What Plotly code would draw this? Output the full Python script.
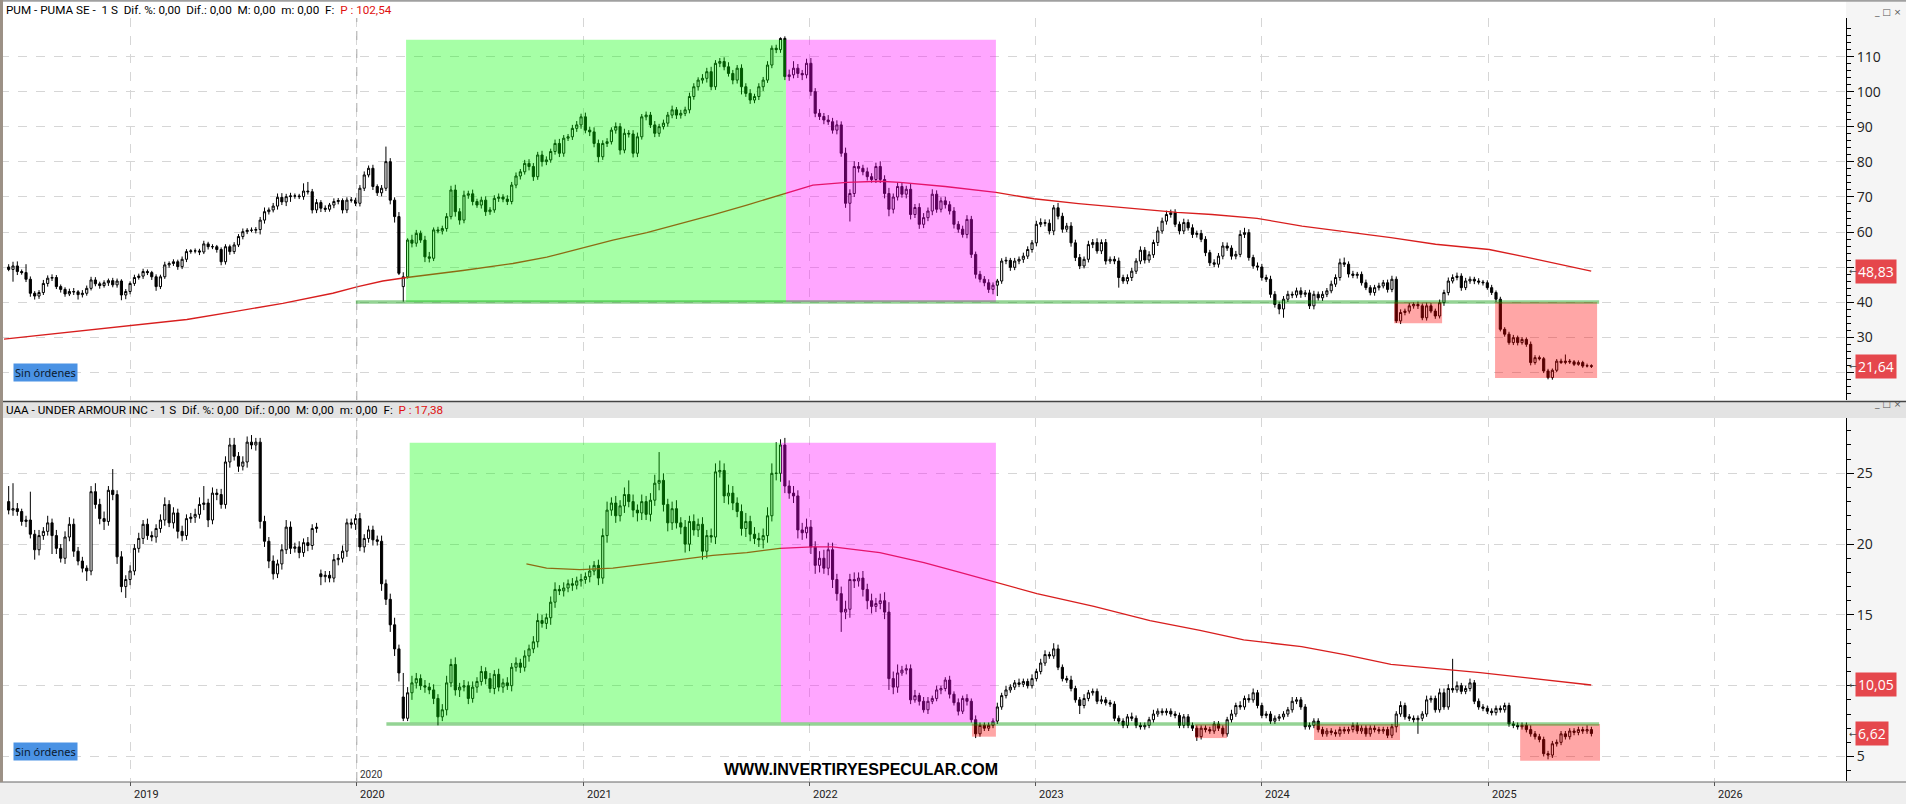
import pandas as pd
import plotly.graph_objects as go

# ===================== DATA =====================
START = "2018-06-18"          # first weekly candle (Monday)

# ---- PUMA SE weekly closes ----
pum_close_a = [49.3,50.3,48.7,48.4,46.5,42.5,41.7,42.7,45.3,46.8,
 47.0,44.4,43.6,42.3,43.0,42.9,42.1,42.5,43.9,46.3,
 45.2,44.7,45.5,46.1,44.9,46.0,42.0,43.0,45.3,47.0,
 47.4,48.7,48.4,47.2,44.4,47.2,50.6,51.0,51.5,50.1,
 52.2,54.4,54.6,54.6,54.3,56.6,55.8,55.8,55.0,51.5,
 55.8,54.4,56.3,58.7,60.1,60.5,60.5,60.7,63.4,65.8,
 66.3,67.4,69.9,68.6,70.1,70.3,70.3,70.1,71.7,71.5,
 66.3,68.4,66.8,66.5,67.7,68.7,69.0,66.3,69.1,69.1,
 68.2,72.5,76.3,78.2,73.0,71.2,72.5,80.1,69.1,64.4,
 48.2]
pum_close_b = [47.2,57.7,56.8,59.6,57.7,52.9,52.5,60.6,60.3,61.0,
 64.4,72.0,65.8,63.4,70.5,70.9,68.7,67.7,69.1,65.8,
 66.3,69.6,70.0,69.4,68.7,73.4,76.0,77.2,79.6,78.7,
 75.8,82.0,80.1,80.6,83.0,85.3,82.5,86.8,87.2,89.6,
 90.6,92.9,89.1,88.6,85.3,81.5,85.3,85.8,89.1,90.1,
 83.4,88.2,88.0,82.5,87.2,92.9,93.4,90.6,88.2,90.1,
 91.1,93.4,94.9,93.4,93.9,94.9,98.7,101.5,103.4,103.9,
 105.8,101.5,108.2,108.7,107.2,105.3,103.4,106.8,101.5,99.6,
 97.7,98.7,101.5,103.4,107.7,112.5,112.1,115.3,104.4,104.9,
 106.8,105.3,104.9,108.2,100.1,93.9,93.0,92.0,91.5,89.1,
 90.6,82.5,68.2,71.0,78.7,78.2,77.2,75.8,75.0,78.7]
pum_close_c = [75.0,71.0,66.5,70.0,73.0]
pum_close_d = [70.8,72.2,65.0,67.0,62.2,64.1,66.0,70.8,66.5,68.9,
 67.8,66.0,62.2,60.8,59.3,63.6,53.6,47.9,46.5,45.5,
 43.6,44.8,46.0,51.7,51.9,49.9,51.7,52.2,53.1,55.0,
 56.9,62.2,62.7,62.5,60.3,66.9,64.5,60.8,61.7,56.9,
 52.7,50.3,52.2,56.4,57.0,54.6,57.0,51.7,52.2,51.7,
 47.0,46.0,47.0,48.8,51.7,54.8,52.0,53.5,57.0,60.3,
 63.1,65.0,65.5,62.2,60.3,62.7,61.2,59.3,59.6,57.9,
 54.1,51.2,50.8,53.1,56.0,55.4,53.1,53.6,59.3,59.8,
 52.7,50.3,50.0,47.0,46.5,42.2,39.3,38.0,40.8,42.2,
 42.0,43.2,42.2,42.6,38.9,42.2,41.2,42.2,43.2,45.1,
 47.0,51.2,50.8,48.0,47.6,47.9,45.5,44.1,42.7,44.1,
 44.6,45.5,43.6,46.5,34.6,37.0,37.4,38.9,39.3,38.9,
 35.5,38.9,37.4,36.0,39.8,42.7,46.0,47.0,47.4,44.1,
 46.0,46.5,46.0,45.7,45.5,44.1,42.7,40.8,32.2,30.8,
 28.4,29.8,28.4,29.3,27.9,22.7,24.1,23.8,20.3,18.4,
 20.5,23.1,22.7,23.1,22.9,22.2,22.7,21.7,21.8,21.64]
# upper / lower wick lengths (price units)
pum_uw_a = [0.8,1.2,1.3,0.6,2.4,0.8,0.6,0.7,1.0,0.8, 0.9,0.7,0.6,0.6,0.8,1.0,0.5,0.9,0.8,0.9,
 0.8,0.6,0.7,0.6,0.8,0.7,0.5,0.7,0.6,0.8, 0.7,0.8,0.6,0.5,0.7,0.6,0.9,0.6,0.7,0.6,
 0.8,0.7,0.5,0.7,0.6,0.9,0.6,0.7,0.5,0.6, 0.7,0.6,0.8,0.7,0.9,0.6,0.8,0.7,0.9,1.2,
 0.7,0.9,1.1,1.2,0.8,0.9,0.7,0.6,2.2,2.6, 0.8,1.0,0.7,0.8,0.6,0.9,0.7,0.6,0.8,0.9,
 0.7,0.9,1.0,0.8,1.0,0.6,0.9,4.3,1.0,0.8, 1.3]
pum_lw_a = [0.5,3.5,1.0,0.6,0.8,1.0,1.0,0.8,0.7,0.9, 0.8,0.7,0.9,0.8,0.6,0.9,1.4,0.8,0.7,0.6,
 0.7,0.9,0.6,0.9,0.7,0.8,1.5,1.2,0.8,0.7, 0.6,0.8,0.7,0.9,1.2,0.7,0.6,0.8,0.7,0.9,
 0.7,0.8,0.6,0.7,0.9,0.6,0.8,0.7,0.9,1.0, 0.8,0.9,0.7,0.6,0.8,0.7,0.6,0.9,1.4,1.0,
 0.8,0.7,1.0,0.9,1.2,1.5,0.8,0.7,0.9,0.8, 1.0,0.9,1.1,0.8,0.7,0.9,0.8,1.0,0.9,0.7,
 0.8,0.9,0.8,0.7,1.0,0.9,1.0,0.8,1.2,1.7, 0.5]
pum_uw_b = [1.3,0.5,1.5,1.0,0.8,1.2,1.4,0.7,0.9,0.8, 1.0,1.2,1.5,1.0,1.3,0.9,1.2,0.8,1.0,1.1,
 0.8,0.9,1.0,0.8,1.1,0.9,1.0,0.8,1.0,1.2, 1.0,0.9,1.2,1.0,0.8,1.1,1.3,0.9,0.8,1.0,
 1.1,0.9,1.2,1.0,1.3,1.1,0.9,1.0,0.8,1.2, 1.0,1.3,0.9,1.1,1.2,0.8,1.0,0.9,1.1,0.8,
 1.0,0.9,1.2,0.8,1.0,0.9,1.1,1.0,0.8,1.2, 1.1,1.4,0.9,1.0,1.2,1.3,1.0,0.9,1.1,1.0,
 1.2,0.8,1.0,0.9,1.1,0.8,1.0,0.3,0.6,1.5, 2.0,1.2,1.0,1.3,1.5,1.0,1.2,1.0,1.4,1.1,
 1.3,1.0,1.6,1.2,1.5,1.3,1.0,1.2,1.0,1.1]
pum_lw_b = [4.3,0.5,1.2,1.0,0.8,1.5,1.2,0.8,0.7,1.0, 0.9,0.8,1.4,1.3,0.9,1.0,1.1,0.8,1.0,1.2,
 0.9,0.8,1.0,0.9,1.0,0.8,0.9,1.0,0.8,1.1, 1.2,0.9,1.4,1.0,0.8,0.9,1.1,1.0,0.8,0.9,
 1.0,1.1,0.9,1.2,1.1,1.6,0.9,1.0,0.8,1.0, 1.3,0.9,1.0,1.2,1.1,0.8,1.0,0.9,1.1,1.0,
 0.8,1.0,0.9,1.1,1.0,0.8,1.0,0.9,1.1,1.0, 1.2,1.0,0.9,1.1,1.0,0.9,1.2,1.0,2.2,1.0,
 1.1,0.9,1.0,1.2,0.8,0.9,1.0,0.9,1.0,1.2, 1.0,1.3,1.5,1.0,1.2,1.1,1.0,1.2,0.9,1.0,
 1.2,1.0,1.3,5.2,1.0,1.2,1.0,1.1,0.9,1.0]
pum_uw_c = [1.5,1.2,1.6,1.0,1.2]
pum_lw_c = [1.0,1.4,2.0,1.2,1.0]
pum_uw_d = [1.2,1.0,1.5,1.0,1.2,1.3,1.0,1.4,1.1,1.0, 1.2,1.0,1.1,0.9,1.0,1.2,1.0,0.8,1.0,0.9,
 1.0,0.8,0.6,0.8,1.0,0.7,0.9,0.8,1.0,0.9, 0.8,1.0,1.2,0.9,1.1,0.8,1.4,1.0,0.9,1.1,
 0.9,1.0,0.8,1.1,1.0,1.2,0.9,1.0,0.8,0.9, 1.0,0.8,0.9,1.0,0.8,1.1,0.9,1.0,0.8,1.2,
 1.0,1.1,0.9,1.0,0.8,1.1,0.9,1.0,0.8,1.0, 0.9,0.8,1.0,0.9,1.1,1.0,0.8,1.0,1.2,1.4,
 1.0,0.8,1.0,0.9,0.8,1.0,0.9,0.8,0.9,1.0, 0.8,0.9,1.0,0.8,0.9,1.0,0.8,0.9,0.8,1.0,
 0.9,1.2,1.5,0.8,0.9,0.7,0.8,0.9,0.7,0.8, 0.9,0.8,0.9,1.0,0.8,0.9,0.7,0.8,0.6,0.8,
 0.7,0.9,0.8,0.7,0.9,0.8,1.0,0.9,1.0,0.8, 0.9,0.8,0.7,0.8,0.6,0.7,0.8,0.6,0.7,0.6,
 0.7,0.8,0.6,0.7,0.6,0.8,0.7,0.6,0.5,0.6, 0.5,0.6,0.7,1.9,0.6,0.5,0.6,0.5,0.6,0.4]
pum_lw_d = [1.0,1.2,1.4,1.0,1.3,1.1,1.0,1.2,1.0,0.9, 1.1,1.0,1.2,1.0,0.9,1.1,1.0,1.2,0.9,1.0,
 1.0,1.4,3.1,0.8,0.9,1.0,0.8,0.9,1.0,0.8, 0.9,1.0,0.8,0.9,1.0,1.2,0.9,1.0,0.8,1.1,
 1.0,0.9,0.7,0.9,1.0,0.8,0.9,1.0,0.8,0.9, 2.9,0.8,0.9,1.0,0.8,0.9,1.0,0.8,0.9,1.0,
 0.8,1.0,0.9,0.8,1.0,0.9,0.8,1.0,0.9,0.8, 1.0,0.9,0.8,1.0,0.9,0.8,1.0,0.9,0.8,1.0,
 0.9,0.8,1.0,0.9,0.8,1.0,0.9,1.5,2.5,0.8, 0.9,0.8,1.0,0.8,0.9,1.0,0.8,0.9,0.8,0.7,
 0.8,0.9,0.8,1.0,0.8,0.9,0.8,0.7,0.8,0.9, 0.8,0.7,0.9,0.8,0.6,0.9,0.8,0.7,0.8,0.9,
 0.7,0.8,0.6,0.8,0.7,0.9,0.8,0.7,0.8,0.9, 0.7,0.8,0.9,0.7,0.8,0.6,0.7,0.8,0.6,0.7,
 0.6,0.7,0.8,0.6,0.7,0.8,0.6,0.5,0.6,0.5, 0.6,0.5,0.4,0.5,0.6,0.5,0.4,0.5,0.4,0.5]
pum_first_open = 50.0
pum_gap_open = {"2020-03-16": 44.4}

# ---- UNDER ARMOUR weekly closes ----
uaa_close_a = [22.4,22.5,22.3,21.6,21.7,20.7,19.6,20.6,20.9,21.5,
 20.6,19.7,19.0,20.5,21.4,19.5,18.8,18.3,18.1,23.7,
 22.8,21.8,21.6,23.8,23.5,19.1,17.0,17.5,18.1,19.7,
 20.4,21.4,20.6,20.5,21.1,21.7,22.8,21.5,22.2,20.9,
 20.6,21.8,21.9,22.1,22.8,22.9,21.7,23.6,23.5,22.8,
 25.8,27.0,26.2,25.5,25.8,27.2,27.0,27.2,21.6,20.2,
 18.8,17.9,18.6,19.6,21.2,19.7,19.8,19.4,20.1,19.9,
 21.1,21.2,17.7,17.8,17.6,18.9,19.0,19.5,21.5,21.4,
 21.8,19.8,20.4,21.0,20.3,20.2,17.2,16.1,14.3,12.6,
 10.9]
uaa_close_b = [7.7,9.5,10.2,10.5,10.0,9.9,9.7,9.1,7.8,8.3,
 10.2,11.5,9.7,9.9,10.0,9.1,9.9,10.3,11.0,10.5,
 9.8,10.8,9.9,10.2,10.0,11.3,11.6,11.3,12.1,12.6,
 13.1,14.6,14.4,14.8,15.9,16.8,16.7,16.9,17.2,17.1,
 17.4,17.5,17.7,18.1,18.5,17.6,20.6,22.4,22.9,22.0,
 22.7,23.5,23.0,22.4,22.2,23.0,22.1,23.1,24.3,24.5,
 22.8,21.5,22.5,21.5,21.2,20.0,21.6,21.0,21.4,19.5,
 20.6,20.5,25.1,25.2,23.4,23.6,22.9,22.3,21.1,21.6,
 20.7,20.4,20.3,20.6,22.0,25.0,25.0,27.0,24.1,23.6,
 23.4,21.0,20.8,21.2,19.8,18.5,19.0,18.3,19.6,17.5,
 16.5,15.2,15.4,17.5,17.4,17.6,16.8,16.0,15.6,15.8]
uaa_close_c = [16.0,15.2,10.5,9.9,10.9]
uaa_close_d = [11.1,11.2,9.0,9.3,8.9,8.3,8.9,9.1,9.7,9.8,
 10.4,9.4,8.8,8.2,9.1,8.9,7.6,6.6,7.2,7.0,
 7.2,7.5,8.5,9.3,9.7,9.9,10.2,10.1,10.3,10.0,
 10.5,11.0,11.6,12.2,12.1,12.6,11.3,10.5,10.4,9.8,
 9.0,8.6,9.1,9.5,9.6,8.9,9.0,8.8,8.7,7.7,
 7.5,7.2,7.8,7.7,7.2,7.1,7.2,7.6,8.0,8.2,
 8.1,8.2,8.0,7.9,7.2,7.8,7.2,7.0,6.4,7.0,
 6.9,6.8,7.3,7.0,6.6,7.6,8.0,8.6,8.5,9.1,
 9.0,9.5,8.6,7.9,8.0,7.5,7.7,7.8,8.0,8.3,
 8.9,9.0,8.5,7.1,7.2,7.5,6.9,6.6,6.8,6.7,
 6.6,6.9,6.8,6.9,7.2,6.8,7.0,6.6,7.0,6.9,
 6.8,6.9,6.5,7.1,8.0,8.6,7.8,7.7,7.6,7.7,
 8.0,9.0,9.1,8.3,9.5,8.5,9.8,9.7,10.0,9.6,
 9.8,10.2,8.9,8.5,8.4,8.2,8.1,8.4,8.3,8.6,
 7.3,7.2,7.1,7.2,6.9,6.6,6.4,6.2,5.2,5.1,
 5.9,6.0,6.6,6.4,6.8,6.7,6.9,6.8,6.9,6.62]
uaa_uw_a = [1.1,1.8,0.4,0.2,0.3,2.0,0.3,0.4,0.3,0.5, 0.3,0.4,0.3,0.4,0.5,0.4,0.3,0.3,0.2,0.4,
 0.6,0.4,0.5,0.3,1.5,0.3,0.4,0.3,0.4,0.3, 0.4,0.3,0.4,0.3,0.3,0.4,0.5,0.3,0.4,0.3,
 0.4,0.3,0.3,0.4,0.5,1.2,0.3,0.4,0.3,0.4, 0.4,0.5,0.5,0.3,0.4,0.4,0.5,0.3,0.3,0.4,
 0.3,0.4,0.3,0.4,0.5,0.4,0.3,0.4,0.3,0.4, 0.3,0.3,0.3,0.3,0.3,0.4,0.3,0.4,0.3,0.3,
 0.3,0.4,0.3,0.3,0.3,0.3,0.4,0.3,0.4,0.5, 0.3]
uaa_lw_a = [0.3,0.4,0.3,0.3,0.4,0.3,0.7,0.4,0.3,0.3, 1.3,0.4,0.3,0.4,0.3,0.4,0.3,0.3,0.7,0.3,
 0.3,0.4,0.6,0.3,0.4,0.5,0.4,0.8,0.4,0.3, 0.3,0.4,0.3,0.3,0.4,0.3,0.4,0.3,0.4,0.5,
 0.4,0.3,0.3,0.4,0.3,0.4,0.5,0.3,0.4,0.3, 0.3,0.4,0.3,0.4,0.3,0.4,0.3,0.4,0.5,0.4,
 0.5,0.4,0.3,0.4,0.3,0.4,0.3,0.4,0.3,0.4, 0.3,0.3,0.6,0.4,0.3,0.3,0.4,0.3,0.4,0.3,
 0.4,0.3,0.4,0.3,0.4,0.3,0.5,0.4,0.5,0.5, 0.6]
uaa_uw_b = [1.7,0.4,0.5,0.4,0.3,0.4,0.3,0.4,0.3,0.4, 0.5,0.4,0.5,0.3,0.4,0.3,0.4,0.3,0.4,0.3,
 0.4,0.3,0.4,0.3,0.4,0.3,0.4,0.3,0.4,0.3, 0.4,0.5,0.4,0.3,0.4,0.5,0.3,0.4,0.3,0.4,
 0.3,0.4,0.3,0.4,0.3,0.4,0.5,0.6,0.4,0.5, 0.4,0.5,1.0,0.5,0.4,0.5,0.4,0.5,0.6,2.0,
 0.5,0.4,0.5,0.6,0.4,0.5,0.4,0.5,0.4,0.5, 0.4,0.5,0.6,0.7,0.5,0.6,0.5,0.4,0.5,0.6,
 0.4,0.5,0.4,0.5,0.6,0.7,2.2,0.4,0.5,0.4, 0.5,0.4,0.5,0.6,0.5,0.4,0.5,0.6,0.5,0.5,
 0.4,0.5,0.6,0.4,0.5,0.4,0.5,0.4,0.5,0.4]
uaa_lw_b = [0.2,0.2,0.5,0.4,0.3,0.4,0.3,0.4,0.6,0.3, 0.4,0.3,0.4,0.5,0.3,0.4,0.3,0.4,0.3,0.4,
 0.3,0.4,0.3,0.4,0.3,0.4,0.3,0.4,0.3,0.4, 0.3,0.4,0.3,0.4,0.5,0.4,0.3,0.4,0.3,0.4,
 0.3,0.4,0.3,0.4,0.3,0.5,0.4,0.5,0.4,0.5, 0.4,0.5,0.4,0.5,0.6,0.5,0.4,0.5,0.4,0.5,
 0.5,0.6,0.5,0.4,0.5,0.6,0.5,0.4,0.5,0.6, 0.5,0.4,0.5,0.4,0.5,0.6,0.5,0.4,0.5,0.6,
 0.5,0.4,0.5,0.6,0.5,0.4,0.5,0.6,0.5,0.4, 0.5,0.6,0.5,0.4,0.5,0.6,0.5,0.4,0.5,0.6,
 0.5,1.4,0.5,0.6,0.5,0.4,0.5,0.6,0.5,0.4]
uaa_uw_c = [0.5,0.6,0.7,0.5,0.6]
uaa_lw_c = [0.4,0.5,0.8,0.5,0.4]
uaa_uw_d = [0.3,0.3,0.3,0.4,0.2,0.3,0.3,0.2,0.3,0.2, 0.2,0.3,0.2,0.3,0.2,0.3,0.2,0.3,0.2,0.2,
 0.2,0.2,0.3,0.2,0.3,0.2,0.2,0.3,0.2,0.2, 0.3,0.2,0.3,0.3,0.2,0.4,0.3,0.2,0.2,0.3,
 0.2,0.2,0.3,0.2,0.2,0.2,0.3,0.2,0.2,0.2, 0.2,0.2,0.2,0.3,0.2,0.2,0.2,0.2,0.3,0.2,
 0.2,0.2,0.2,0.2,0.2,0.2,0.2,0.2,0.2,0.2, 0.2,0.2,0.2,0.2,0.2,0.2,0.3,0.2,0.3,0.2,
 0.3,0.3,0.2,0.2,0.2,0.2,0.2,0.2,0.2,0.2, 0.3,0.2,0.2,0.2,0.2,0.2,0.2,0.2,0.2,0.2,
 0.2,0.2,0.2,0.2,0.2,0.2,0.2,0.2,0.2,0.2, 0.2,0.2,0.2,0.2,0.2,0.3,0.2,0.2,0.2,0.2,
 0.2,0.3,0.2,0.2,0.3,0.3,0.3,2.1,0.3,0.2, 0.2,0.3,0.2,0.2,0.2,0.2,0.2,0.2,0.2,0.2,
 0.2,0.2,0.2,0.2,0.2,0.3,0.2,0.2,0.2,0.2, 0.2,0.2,0.2,0.2,0.2,0.2,0.2,0.2,0.3,0.2]
uaa_lw_d = [0.2,0.3,0.3,0.2,0.3,0.2,0.3,0.2,0.2,0.3, 0.2,0.3,0.2,0.3,0.2,0.3,0.2,0.3,0.2,0.2,
 0.2,0.2,0.2,0.2,0.2,0.2,0.2,0.2,0.2,0.2, 0.2,0.2,0.2,0.2,0.2,0.2,0.2,0.2,0.2,0.2,
 0.2,0.6,0.2,0.2,0.2,0.2,0.2,0.2,0.2,0.2, 0.2,0.2,0.2,0.2,0.2,0.2,0.2,0.2,0.2,0.2,
 0.2,0.2,0.2,0.2,0.2,0.2,0.2,0.2,0.3,0.2, 0.2,0.2,0.2,0.2,0.2,0.2,0.2,0.2,0.2,0.2,
 0.2,0.2,0.2,0.2,0.2,0.2,0.2,0.2,0.2,0.2, 0.2,0.2,0.2,0.2,0.2,0.2,0.2,0.2,0.2,0.2,
 0.2,0.2,0.2,0.2,0.2,0.2,0.2,0.2,0.2,0.2, 0.2,0.2,0.2,0.2,0.4,0.2,0.2,0.2,0.2,1.0,
 0.2,0.2,0.2,0.2,0.2,0.2,0.2,0.2,0.2,0.2, 0.2,0.2,0.2,0.2,0.2,0.2,0.2,0.2,0.2,0.2,
 0.2,0.2,0.2,0.2,0.2,0.2,0.2,0.2,0.2,0.3, 0.2,0.2,0.2,0.2,0.2,0.2,0.2,0.2,0.2,0.2]
uaa_first_open = 23.0
uaa_gap_open = {"2019-11-04": 17.9, "2020-03-16": 9.2}

# ---- long moving averages (decimal year, value) ----
pum_ma_year = [2018.44,2019.0,2019.248,2019.451,2019.672,2019.893,2020.004,2020.114,2020.22,
 2020.468,2020.689,2020.839,2020.985,2021.131,2021.281,2021.427,2021.573,2021.723,2021.896,
 2022.015,2022.165,2022.311,2022.40,2022.60,2022.824,2022.992,2023.189,2023.386,2023.624,
 2023.779,2023.978,2024.177,2024.371,2024.570,2024.767,2025.004,2025.163,2025.318,2025.455]
pum_ma_val = [29.4,33.2,35.0,37.2,39.6,42.5,44.4,46.0,47.0,49.0,51.0,52.8,55.3,57.7,59.8,62.3,
 64.9,67.7,71.2,73.4,74.2,74.5,74.2,73.0,71.3,69.5,68.1,66.9,65.6,65.0,63.9,61.7,60.1,58.4,
 56.5,55.0,52.9,50.8,48.83]
uaa_ma_year = [2020.749,2020.838,2020.985,2021.131,2021.281,2021.427,2021.573,2021.723,2021.869,
 2022.015,2022.103,2022.311,2022.506,2022.665,2022.824,2023.005,2023.257,2023.505,2023.726,
 2023.919,2024.175,2024.371,2024.570,2024.844,2024.964,2025.163,2025.455]
uaa_ma_val = [18.6,18.3,18.2,18.3,18.6,18.9,19.2,19.4,19.7,19.8,19.8,19.4,18.7,18.0,17.3,16.5,
 15.6,14.6,13.9,13.23,12.76,12.17,11.5,11.1,10.92,10.57,10.05]

# ---- marked zones: (start year, end year, low, high, kind) ----
pum_zones = [(2020.217, 2021.896, 40.0, 114.9, "up"),
             (2021.896, 2022.824, 40.0, 114.9, "down"),
             (2024.584, 2024.796, 33.9, 40.0, "weak"),
             (2025.030, 2025.481, 18.3, 40.0, "weak")]
pum_support = (2019.995, 2025.49, 40.0)
uaa_zones = [(2020.233, 2021.874, 7.4, 27.15, "up"),
             (2021.874, 2022.824, 7.4, 27.15, "down"),
             (2022.718, 2022.824, 6.4, 7.3, "weak"),
             (2023.704, 2023.845, 6.3, 7.3, "weak"),
             (2024.230, 2024.610, 6.17, 7.3, "weak"),
             (2025.141, 2025.494, 4.7, 7.3, "weak")]
uaa_support = (2020.13, 2025.49, 7.3)

pum_last_labels = [48.83, 21.64]
uaa_last_labels = [10.05, 6.62]
year_labels = [2019, 2020, 2021, 2022, 2023, 2024, 2025, 2026]
pum_ticks = [20, 30, 40, 50, 60, 70, 80, 90, 100, 110]
pum_hidden_ticks = [20, 50]      # covered by the last-value labels
uaa_ticks = [5, 10, 15, 20, 25]
uaa_hidden_ticks = [10]

# ===================== BUILD =====================
pum_close = pum_close_a + pum_close_b + pum_close_c + pum_close_d
pum_uw = pum_uw_a + pum_uw_b + pum_uw_c + pum_uw_d
pum_lw = pum_lw_a + pum_lw_b + pum_lw_c + pum_lw_d
uaa_close = uaa_close_a + uaa_close_b + uaa_close_c + uaa_close_d
uaa_uw = uaa_uw_a + uaa_uw_b + uaa_uw_c + uaa_uw_d
uaa_lw = uaa_lw_a + uaa_lw_b + uaa_lw_c + uaa_lw_d

dates = pd.date_range(START, periods=len(pum_close), freq="7D")
dkeys = [d.strftime("%Y-%m-%d") for d in dates]


def ohlc(closes, first_open, gaps, uw, lw):
    n = len(closes)
    uw = (uw + [0.3] * n)[:n]
    lw = (lw + [0.3] * n)[:n]
    opens = [first_open] + closes[:-1]
    for k, v in gaps.items():
        if k in dkeys:
            opens[dkeys.index(k)] = v
    highs = [max(o, c) + u for o, c, u in zip(opens, closes, uw)]
    lows = [min(o, c) - l for o, c, l in zip(opens, closes, lw)]
    return opens, highs, lows


def ydate(y):
    return (pd.Timestamp("2019-01-01") + pd.Timedelta(days=(y - 2019) * 365.25)).strftime("%Y-%m-%d %H:%M")


po, ph, pl = ohlc(pum_close, pum_first_open, pum_gap_open, pum_uw, pum_lw)
uo, uh, ul = ohlc(uaa_close, uaa_first_open, uaa_gap_open, uaa_uw, uaa_lw)

# ---- pixel layout helpers (plot area: x 0..1846, y 18..781) ----
W, H = 1906, 804
PL, PR, PT, PB = 0, 1846, 18, 781


def px(x):
    return (x - PL) / (PR - PL)


def py(y):
    return (PB - y) / (PB - PT)


TOP_DOM = [py(400), 1.0]
BOT_DOM = [0.0, py(418)]

ZONE_COL = {"up": "rgba(0,255,0,0.35)", "down": "rgba(255,0,255,0.35)", "weak": "rgba(255,0,0,0.35)"}
CANDLE = dict(increasing=dict(line=dict(color="black", width=1), fillcolor="white"),
              decreasing=dict(line=dict(color="black", width=1), fillcolor="black"),
              whiskerwidth=0, showlegend=False, hoverinfo="skip")

fig = go.Figure()
fig.add_trace(go.Candlestick(x=dates, open=po, high=ph, low=pl, close=pum_close,
                             xaxis="x", yaxis="y", **CANDLE))
fig.add_trace(go.Scatter(x=[ydate(v) for v in pum_ma_year], y=pum_ma_val, mode="lines",
                         line=dict(color="#d81e1e", width=1.3), xaxis="x", yaxis="y",
                         showlegend=False, hoverinfo="skip"))
fig.add_trace(go.Candlestick(x=dates, open=uo, high=uh, low=ul, close=uaa_close,
                             xaxis="x2", yaxis="y2", **CANDLE))
fig.add_trace(go.Scatter(x=[ydate(v) for v in uaa_ma_year], y=uaa_ma_val, mode="lines",
                         line=dict(color="#d81e1e", width=1.3), xaxis="x2", yaxis="y2",
                         showlegend=False, hoverinfo="skip"))

shapes = []
# backgrounds / chrome
shapes.append(dict(type="rect", xref="paper", yref="paper", x0=1.0, x1=W / PR, y0=py(782), y1=py(0),
                   fillcolor="#f5f5f5", line=dict(width=0), layer="below"))
shapes.append(dict(type="rect", xref="paper", yref="paper", x0=0, x1=W / PR, y0=py(804), y1=py(782),
                   fillcolor="#efefef", line=dict(width=0), layer="below"))
shapes.append(dict(type="line", xref="paper", yref="paper", x0=0, x1=W / PR, y0=py(782), y1=py(782),
                   line=dict(color="#666666", width=1)))
shapes.append(dict(type="rect", xref="paper", yref="paper", x0=0, x1=W / PR, y0=py(418), y1=py(402),
                   fillcolor="#e3e3e3", line=dict(width=0), layer="below"))
shapes.append(dict(type="line", xref="paper", yref="paper", x0=0, x1=W / PR, y0=py(401.5), y1=py(401.5),
                   line=dict(color="#444444", width=1.5)))
shapes.append(dict(type="line", xref="paper", yref="paper", x0=0, x1=W / PR, y0=py(0.8), y1=py(0.8),
                   line=dict(color="#a0a0a0", width=2)))
shapes.append(dict(type="line", xref="paper", yref="paper", x0=px(1.5), x1=px(1.5), y0=py(782), y1=py(0),
                   line=dict(color="#9c9186", width=3)))
# 2020 marker line in both panels
for dom in (TOP_DOM, BOT_DOM):
    shapes.append(dict(type="line", xref="x", yref="paper", x0="2020-01-01", x1="2020-01-01",
                       y0=dom[0], y1=dom[1], line=dict(color="#a8a8a8", width=1, dash="dash")))
# zones
for (a, b, lo, hi, kind) in pum_zones:
    shapes.append(dict(type="rect", xref="x", yref="y", x0=ydate(a), x1=ydate(b), y0=lo, y1=hi,
                       fillcolor=ZONE_COL[kind], line=dict(width=0), layer="above"))
for (a, b, lo, hi, kind) in uaa_zones:
    shapes.append(dict(type="rect", xref="x2", yref="y2", x0=ydate(a), x1=ydate(b), y0=lo, y1=hi,
                       fillcolor=ZONE_COL[kind], line=dict(width=0), layer="above"))
for (a, b, v), xr, yr in ((pum_support, "x", "y"), (uaa_support, "x2", "y2")):
    shapes.append(dict(type="line", xref=xr, yref=yr, x0=ydate(a), x1=ydate(b), y0=v, y1=v,
                       line=dict(color="rgba(0,150,0,0.42)", width=3.5), layer="above"))

ann = []
HFONT = dict(family="Roboto, Noto Sans, sans-serif", size=11.7, color="#000000")
ann.append(dict(xref="paper", yref="paper", x=px(4), y=py(10), xanchor="left", yanchor="middle",
                showarrow=False, font=HFONT,
                text="PUM - PUMA SE -&nbsp; 1 S&nbsp; Dif. %: 0,00&nbsp; Dif.: 0,00&nbsp; M: 0,00&nbsp; "
                     "m: 0,00&nbsp; F:&nbsp; <span style='color:#e01010'>P : 102,54</span>"))
ann.append(dict(xref="paper", yref="paper", x=px(4), y=py(410), xanchor="left", yanchor="middle",
                showarrow=False, font=HFONT,
                text="UAA - UNDER ARMOUR INC -&nbsp; 1 S&nbsp; Dif. %: 0,00&nbsp; Dif.: 0,00&nbsp; M: 0,00&nbsp; "
                     "m: 0,00&nbsp; F:&nbsp; <span style='color:#e01010'>P : 17,38</span>"))
for yc in (372.5, 751):
    ann.append(dict(xref="paper", yref="paper", x=px(13), y=py(yc), xanchor="left", yanchor="middle",
                    showarrow=False, text="Sin órdenes", bgcolor="#4a92e4", borderpad=1,
                    font=dict(family="Noto Sans, sans-serif", size=11, color="#0a1a30")))
for vals, yr in ((pum_last_labels, "y"), (uaa_last_labels, "y2")):
    for v in vals:
        ann.append(dict(xref="paper", yref=yr, x=px(1855), y=v, xanchor="left", yanchor="middle",
                        showarrow=False, text=f"{v:.2f}".replace(".", ","), bgcolor="#e5474c",
                        borderpad=2, font=dict(family="Open Sans, sans-serif", size=14, color="white")))
        ann.append(dict(xref="paper", yref=yr, x=px(1846.5), y=v, xanchor="left", yanchor="middle",
                        showarrow=False, text="←", font=dict(family="DejaVu Sans", size=9, color="#444")))
for yv in year_labels:
    ann.append(dict(xref="x2", yref="paper", x=f"{yv}-01-01", y=py(794), xanchor="left", yanchor="middle",
                    xshift=1, showarrow=False, text=str(yv),
                    font=dict(family="Roboto, sans-serif", size=11, color="#222")))
ann.append(dict(xref="x2", yref="paper", x="2020-01-01", y=py(774), xanchor="left", yanchor="middle",
                xshift=1, showarrow=False, text="2020", font=dict(family="Roboto, sans-serif", size=10, color="#333")))
ann.append(dict(xref="paper", yref="paper", x=px(861), y=py(769.5), xanchor="center", yanchor="middle",
                showarrow=False, text="<b>WWW.INVERTIRYESPECULAR.COM</b>",
                font=dict(family="Liberation Sans, Arial, sans-serif", size=16, color="#000")))
for yc in (12, 404):
    ann.append(dict(xref="paper", yref="paper", x=px(1903), y=py(yc), xanchor="right", yanchor="middle",
                    showarrow=False, text="_ □ ×", font=dict(family="DejaVu Sans", size=9, color="#555")))

XCOMMON = dict(type="date", range=["2018-06-04", "2026-08-01"], showgrid=True, gridcolor="#d6d6d6",
               griddash="dash", gridwidth=1, dtick="M12", tick0="2019-01-01", zeroline=False,
               rangeslider=dict(visible=False), fixedrange=True)
YCOMMON = dict(side="right", showgrid=True, gridcolor="#d6d6d6", griddash="dash", zeroline=False,
               ticks="outside", ticklen=7, tickcolor="#000", showline=True, linecolor="#000", linewidth=1,
               tickfont=dict(family="Open Sans, sans-serif", size=14, color="#222"), fixedrange=True,
               automargin=False)

fig.update_layout(
    width=W, height=H, autosize=False,
    margin=dict(l=PL, r=W - PR, t=PT, b=H - PB),
    paper_bgcolor="white", plot_bgcolor="white", showlegend=False,
    xaxis=dict(domain=[0, 1], anchor="y", showticklabels=False, ticks="", **XCOMMON),
    xaxis2=dict(domain=[0, 1], anchor="y2", showticklabels=False, ticks="outside", ticklen=4,
                tickcolor="#555", matches="x", **XCOMMON),
    yaxis=dict(domain=TOP_DOM, anchor="x", range=[12.0, 121.14], tickmode="array",
               tickvals=pum_ticks,
               ticktext=["" if v in pum_hidden_ticks else str(v) for v in pum_ticks],
               minor=dict(tickmode="array", tickvals=[v for v in range(14, 121, 2) if v % 10],
                          ticks="outside", ticklen=4, tickcolor="#000", showgrid=False), **YCOMMON),
    yaxis2=dict(domain=BOT_DOM, anchor="x2", range=[3.27, 28.905], tickmode="array",
                tickvals=uaa_ticks,
                ticktext=["" if v in uaa_hidden_ticks else str(v) for v in uaa_ticks],
                minor=dict(tickmode="array", tickvals=[v for v in range(4, 29) if v % 5],
                           ticks="outside", ticklen=4, tickcolor="#000", showgrid=False), **YCOMMON),
    shapes=shapes, annotations=ann,
)

fig.write_html("out.html", config={"displayModeBar": False})

# remove the browser's default page margin so the figure sits at the window's top-left corner
with open("out.html", "r", encoding="utf-8") as f:
    html = f.read()
html = html.replace("<head>", "<head><style>html,body{margin:0;padding:0;overflow:hidden;}</style>", 1)
with open("out.html", "w", encoding="utf-8") as f:
    f.write(html)
